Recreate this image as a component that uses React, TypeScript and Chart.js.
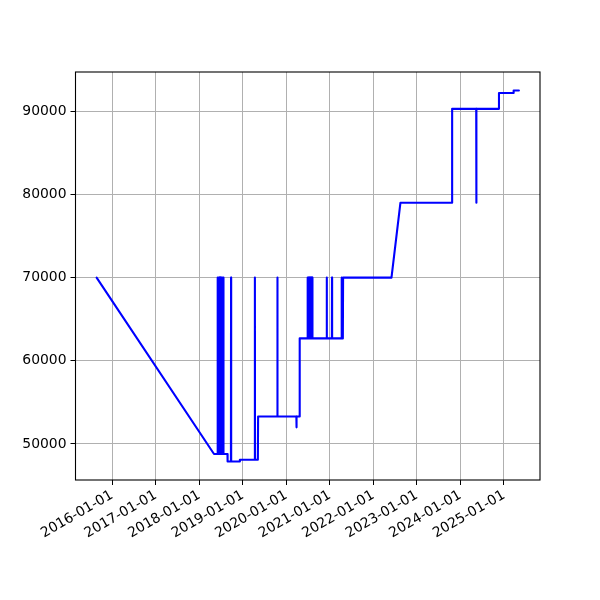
import React, { useEffect, useRef } from "react";
import { Chart, registerables } from "chart.js";

Chart.register(...registerables);

const dates: string[] = [
  "2015-08-24", "2018-05-05",
  "2018-06-03", "2018-06-05", "2018-06-08", "2018-06-12", "2018-06-15", "2018-06-19",
  "2018-06-22", "2018-06-26", "2018-06-29", "2018-07-03", "2018-07-06", "2018-07-10",
  "2018-07-13", "2018-07-17", "2018-07-20", "2018-07-23", "2018-07-24",
  "2018-08-26", "2018-08-27", "2018-09-24", "2018-09-25", "2018-09-26",
  "2018-12-07", "2018-12-08", "2019-04-12", "2019-04-13", "2019-04-14",
  "2019-05-08", "2019-05-10", "2019-10-18", "2019-10-19", "2019-10-20",
  "2020-03-26", "2020-03-27", "2020-03-28", "2020-04-22", "2020-04-23",
  "2020-06-24", "2020-06-27", "2020-07-01", "2020-07-05", "2020-07-09", "2020-07-13",
  "2020-07-17", "2020-07-21", "2020-07-25", "2020-07-29", "2020-08-02", "2020-08-06",
  "2020-08-08", "2020-12-05", "2020-12-06", "2020-12-07",
  "2021-01-18", "2021-01-19", "2021-01-20",
  "2021-04-08", "2021-04-09", "2021-04-12", "2021-04-20", "2021-04-22",
  "2022-06-02", "2022-08-16", "2023-10-23", "2023-10-24",
  "2024-05-13", "2024-05-14", "2024-05-15",
  "2024-11-19", "2024-11-20", "2025-03-22", "2025-03-23", "2025-05-06",
];

const values: number[] = [
  70000, 48800,
  48800, 70000, 48800, 70000, 48800, 70000,
  48800, 70000, 48800, 70000, 48800, 70000,
  48800, 70000, 48800, 70000, 48800,
  48800, 47900, 47900, 70000, 47900,
  47900, 48100, 48100, 70000, 48100,
  48100, 53300, 53300, 70000, 53300,
  53300, 52000, 53300, 53300, 62700,
  62700, 70000, 62700, 70000, 62700, 70000,
  62700, 70000, 62700, 70000, 62700, 70000,
  62700, 62700, 70000, 62700,
  62700, 70000, 62700,
  62700, 70000, 62700, 62700, 70000,
  70000, 79000, 79000, 90300,
  90300, 79000, 90300,
  90300, 92200, 92200, 92500, 92500,
];

const xTickLabels: string[] = [
  "2016-01-01", "2017-01-01", "2018-01-01", "2019-01-01", "2020-01-01",
  "2021-01-01", "2022-01-01", "2023-01-01", "2024-01-01", "2025-01-01",
];

const yTickValues: number[] = [50000, 60000, 70000, 80000, 90000];

const toMs = (s: string) => {
  const [y, m, d] = s.split("-").map(Number);
  return Date.UTC(y, m - 1, d);
};

export default function App() {
  const ref = useRef<HTMLCanvasElement | null>(null);

  useEffect(() => {
    if (!ref.current) return;
    const pts = dates.map((d, i) => ({ x: toMs(d), y: values[i] }));
    const xs = pts.map((p) => p.x);
    const ys = pts.map((p) => p.y);
    const xMin = Math.min(...xs), xMax = Math.max(...xs);
    const yMin = Math.min(...ys), yMax = Math.max(...ys);
    const xPad = (xMax - xMin) * 0.05;
    const yPad = (yMax - yMin) * 0.05;
    const xTickMs = xTickLabels.map(toMs);

    const font = { family: "'DejaVu Sans', sans-serif", size: 13.9 };

    const frame = {
      id: "frame",
      afterDraw(chart: any) {
        const { ctx, chartArea } = chart;
        ctx.save();
        ctx.strokeStyle = "#000";
        ctx.lineWidth = 1.1;
        ctx.strokeRect(
          chartArea.left,
          chartArea.top,
          chartArea.right - chartArea.left,
          chartArea.bottom - chartArea.top
        );
        ctx.restore();
      },
    };

    const chart = new Chart(ref.current, {
      type: "line",
      data: {
        datasets: [
          {
            data: pts,
            borderColor: "#0000ff",
            borderWidth: 2.1,
            pointRadius: 0,
            tension: 0,
            fill: false,
            borderJoinStyle: "round",
            borderCapStyle: "round",
          },
        ],
      },
      options: {
        animation: false,
        responsive: false,
        devicePixelRatio: 1,
        layout: { padding: { left: 0, right: 60, top: 72, bottom: 0 } },
        plugins: { legend: { display: false }, tooltip: { enabled: false } },
        scales: {
          x: {
            type: "linear",
            min: xMin - xPad,
            max: xMax + xPad,
            afterBuildTicks: (scale: any) => {
              scale.ticks = xTickMs.map((v) => ({ value: v }));
            },
            afterFit: (scale: any) => {
              scale.height = 120;
            },
            ticks: {
              callback: (v: any) => {
                const i = xTickMs.indexOf(Number(v));
                return i >= 0 ? xTickLabels[i] : "";
              },
              minRotation: 30,
              maxRotation: 30,
              autoSkip: false,
              color: "#000",
              font,
              padding: 2,
            },
            grid: {
              color: "#b0b0b0",
              lineWidth: 1,
              tickColor: "#000",
              tickLength: 5,
              tickWidth: 1,
            },
            border: { display: false },
          },
          y: {
            type: "linear",
            min: yMin - yPad,
            max: yMax + yPad,
            afterBuildTicks: (scale: any) => {
              scale.ticks = yTickValues.map((v) => ({ value: v }));
            },
            afterFit: (scale: any) => {
              scale.width = 75.5;
            },
            ticks: {
              callback: (v: any) => String(v),
              color: "#000",
              font,
              padding: 4,
            },
            grid: {
              color: "#b0b0b0",
              lineWidth: 1,
              tickColor: "#000",
              tickLength: 5,
              tickWidth: 1,
            },
            border: { display: false },
          },
        },
      },
      plugins: [frame],
    } as any);

    return () => chart.destroy();
  }, []);

  return (
    <div style={{ position: "fixed", left: 0, top: 0, width: 600, height: 600, background: "#fff" }}>
      <canvas ref={ref} width={600} height={600} style={{ width: 600, height: 600 }} />
    </div>
  );
}
